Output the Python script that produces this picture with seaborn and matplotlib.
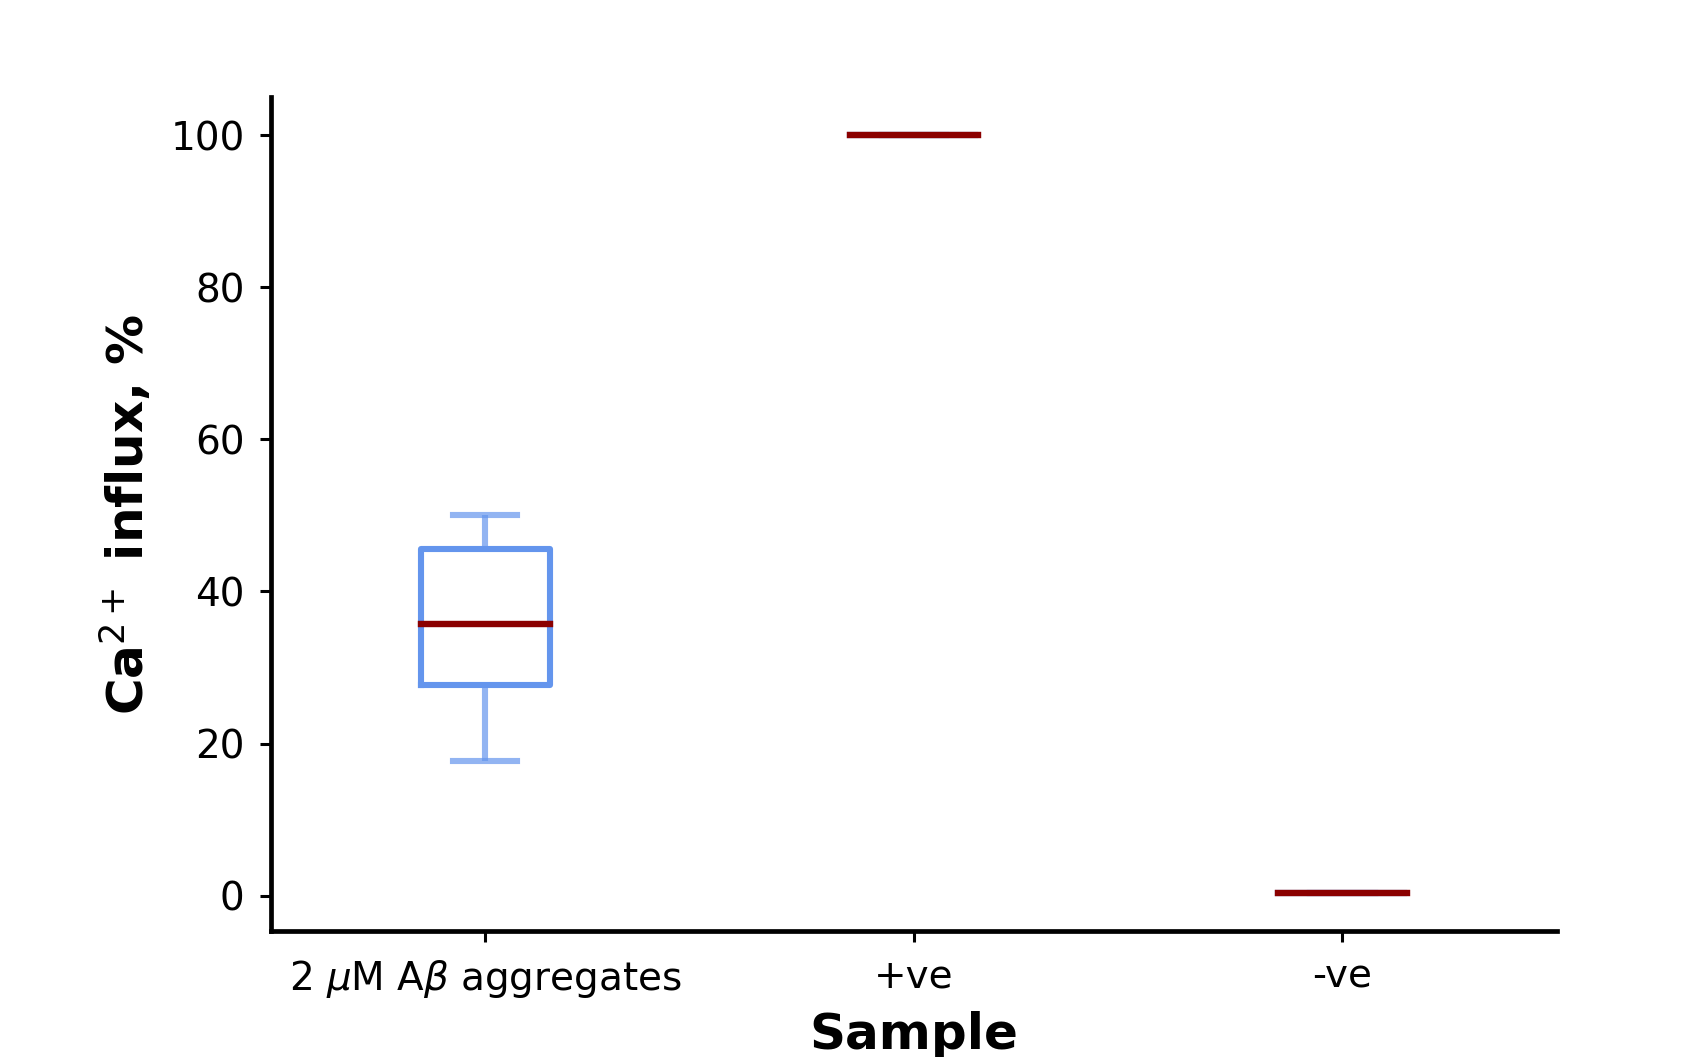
import pandas as pd
import matplotlib
import matplotlib.pyplot as plt
import seaborn as sns

matplotlib.use('Agg')

# valores (Ca2+ influx, %)
amostras = [r'2 $\mu$M A$\beta$ aggregates', '+ve', '-ve']
valores_abeta = [17.7, 27.7, 35.7, 45.6, 50.0]
valores_pos = [100.0, 100.0, 100.0]
valores_neg = [0.3, 0.3, 0.3]

df = pd.DataFrame({
    'Sample': [amostras[0]] * len(valores_abeta) + [amostras[1]] * len(valores_pos) + [amostras[2]] * len(valores_neg),
    'Influx': valores_abeta + valores_pos + valores_neg,
})

fig = plt.figure(figsize=(8.47, 5.285), dpi=200)
ax = fig.add_axes([0.16, 0.119, 0.759, 0.789])

sns.boxplot(
    data=df, x='Sample', y='Influx', order=amostras, ax=ax,
    color='cornflowerblue', fill=False, width=0.3, linewidth=2.2,
    medianprops=dict(color='darkred', linewidth=2.3, solid_capstyle='projecting'),
    whiskerprops=dict(alpha=0.7),
    capprops=dict(alpha=0.7),
)

ax.set_xlabel('Sample', fontsize=18, fontweight='bold', labelpad=4)
ax.set_ylabel(r'Ca$^{2+}$ influx, %', fontsize=18, fontweight='bold', labelpad=6)
ax.tick_params(axis='both', labelsize=14, length=4, width=1.1, pad=5.5)
ax.set_yticks([0, 20, 40, 60, 80, 100])

sns.despine(ax=ax)
for lado in ['left', 'bottom']:
    ax.spines[lado].set_linewidth(1.7)

plt.savefig('out.png', dpi=200)
plt.close()
